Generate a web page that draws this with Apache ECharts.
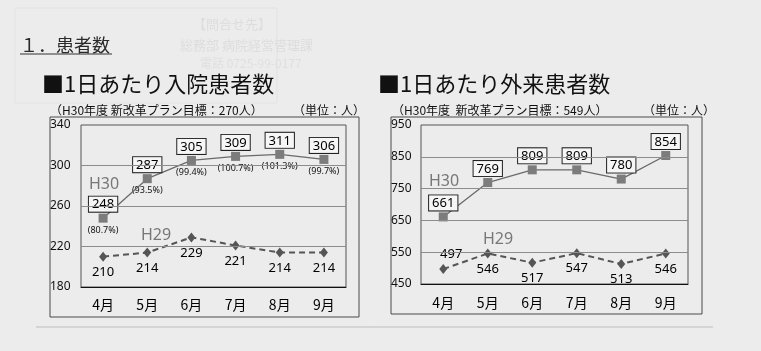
<!DOCTYPE html>
<html>
<head>
<meta charset="utf-8">
<script src="https://cdn.jsdelivr.net/npm/echarts@6/dist/echarts.min.js"></script>
<style>
  html, body { margin: 0; padding: 0; background: #ececec; }
  #chart { width: 761px; height: 351px; }
</style>
</head>
<body>
<div id="chart"></div>
<script>
// data
var months = ['4月', '5月', '6月', '7月', '8月', '9月']

var inpatientH30 = [248, 287, 305, 309, 311, 306]
var inpatientRate = ['(80.7%)', '(93.5%)', '(99.4%)', '(100.7%)', '(101.3%)', '(99.7%)']
var inpatientH29 = [210, 214, 229, 221, 214, 214]
var inpatientTicks = [180, 220, 260, 300, 340]

var outpatientH30 = [661, 769, 809, 809, 780, 854]
var outpatientH29 = [497, 546, 517, 547, 513, 546]
var outpatientTicks = [450, 550, 650, 750, 850, 950]

var numFont = '"Noto Sans", "Noto Sans CJK JP", sans-serif'
var jpFont = '"Noto Sans CJK JP", sans-serif'

function gridLines(ticks) {
  // inner ticks only, the grid border draws the outer two
  return ticks.slice(1, -1).map(function (v) { return { yAxis: v } })
}

function h30Series(idx, data) {
  return {
    type: 'line',
    xAxisIndex: idx,
    yAxisIndex: idx,
    data: data,
    symbol: 'rect',
    symbolSize: 9,
    z: 4,
    itemStyle: { color: '#7c7c7c' },
    lineStyle: { color: '#6a6a6a', width: 1.3 },
    label: {
      show: true,
      position: 'top',
      distance: 2,
      color: '#000',
      fontFamily: numFont,
      fontSize: 13,
      lineHeight: 14,
      backgroundColor: '#f6f6f6',
      borderColor: '#222',
      borderWidth: 1,
      padding: [1, 3, 0, 3]
    },
    markLine: {
      silent: true,
      symbol: 'none',
      label: { show: false },
      lineStyle: { color: '#8c8c8c', type: 'solid', width: 1 },
      data: gridLines(idx === 0 ? inpatientTicks : outpatientTicks)
    },
    animation: false
  }
}

function h29Series(idx, data) {
  return {
    type: 'line',
    xAxisIndex: idx,
    yAxisIndex: idx,
    data: data.map(function (v, i) {
      if (idx === 1 && i === 0) {
        return { value: v, label: { position: 'top', distance: 3, offset: [8, 0] } }
      }
      return v
    }),
    symbol: 'diamond',
    symbolSize: [8, 10],
    z: 3,
    itemStyle: { color: '#555' },
    lineStyle: { color: '#555', width: 2, type: [6, 4] },
    label: {
      show: true,
      position: 'bottom',
      distance: 4,
      color: '#000',
      fontFamily: numFont,
      fontSize: 13
    },
    animation: false
  }
}

function box(x, y, w, h) {
  return { type: 'rect', shape: { x: x, y: y, width: w, height: h }, style: { fill: 'none', stroke: '#4a4a4a', lineWidth: 1 }, z: -5 }
}

function txt(x, y, text, size, color, font, extra) {
  var o = { type: 'text', x: x, y: y, style: { text: text, fontSize: size, fill: color, fontFamily: font || jpFont, verticalAlign: 'middle' } }
  if (extra) Object.assign(o.style, extra)
  return o
}

var chart = echarts.init(document.getElementById('chart'))
chart.setOption({
  backgroundColor: '#ececec',
  animation: false,
  grid: [
    { left: 81, right: 415, top: 125, bottom: 64, show: true, borderColor: '#555', borderWidth: 1 },
    { left: 421, right: 73, top: 125, bottom: 67, show: true, borderColor: '#555', borderWidth: 1 }
  ],
  xAxis: [0, 1].map(function (i) {
    return {
      type: 'category',
      gridIndex: i,
      data: months,
      axisTick: { show: false },
      axisLine: { lineStyle: { color: '#111', width: 1 } },
      axisLabel: { color: '#000', fontSize: 14, fontFamily: jpFont, margin: i === 0 ? 11 : 12 }
    }
  }),
  yAxis: [
    {
      type: 'value', gridIndex: 0, min: 180, max: 340,
      splitLine: { show: false }, axisLine: { show: false }, axisTick: { show: false },
      axisLabel: { customValues: inpatientTicks, align: 'left', margin: 31, color: '#111', fontSize: 12, fontFamily: numFont }
    },
    {
      type: 'value', gridIndex: 1, min: 450, max: 950,
      splitLine: { show: false }, axisLine: { show: false }, axisTick: { show: false },
      axisLabel: { customValues: outpatientTicks, align: 'left', margin: 30, color: '#111', fontSize: 12, fontFamily: numFont }
    }
  ],
  series: [
    h30Series(0, inpatientH30),
    {
      // percentage of target under each H30 point
      type: 'line',
      data: inpatientH30,
      symbol: 'rect',
      symbolSize: 9,
      silent: true,
      z: 1,
      itemStyle: { color: 'rgba(0,0,0,0)' },
      lineStyle: { opacity: 0 },
      label: {
        show: true,
        position: 'bottom',
        distance: 3,
        color: '#111',
        fontFamily: numFont,
        fontSize: 9,
        formatter: function (p) { return inpatientRate[p.dataIndex] }
      },
      animation: false
    },
    h29Series(0, inpatientH29),
    h30Series(1, outpatientH30),
    h29Series(1, outpatientH29)
  ],
  graphic: [
    // faint show-through from the reverse page
    { type: 'rect', shape: { x: 15, y: 8, width: 262, height: 95 }, style: { fill: 'none', stroke: '#e2e2e2', lineWidth: 1 }, z: -10 },
    txt(193, 24, '【問合せ先】', 13, '#dddddd'),
    txt(180, 45, '総務部 病院経営管理課', 13, '#dddddd'),
    txt(200, 63, '電話 0725-99-0177', 12, '#dfdfdf'),

    txt(20, 45, '１．患者数', 18, '#2a2a2a'),
    { type: 'line', shape: { x1: 20, y1: 54, x2: 112, y2: 54 }, style: { stroke: '#333', lineWidth: 1 } },

    txt(42, 84, '■1日あたり入院患者数', 22, '#111'),
    txt(50, 110, '（H30年度 新改革プラン目標：270人）', 12, '#111'),
    txt(293, 110, '（単位：人）', 12, '#111'),
    box(50, 117, 309, 200),
    txt(89, 184, 'H30', 16, '#777', numFont),
    txt(141, 235, 'H29', 16, '#777', numFont),

    txt(378, 84, '■1日あたり外来患者数', 22, '#111'),
    txt(392, 110, '（H30年度  新改革プラン目標：549人）', 12, '#111'),
    txt(643, 110, '（単位：人）', 12, '#111'),
    box(391, 117, 311, 197),
    txt(429, 181, 'H30', 16, '#777', numFont),
    txt(483, 239, 'H29', 16, '#777', numFont),

    { type: 'line', shape: { x1: 36, y1: 327, x2: 713, y2: 327 }, style: { stroke: '#bdbdbd', lineWidth: 1 } }
  ]
})
</script>
</body>
</html>
